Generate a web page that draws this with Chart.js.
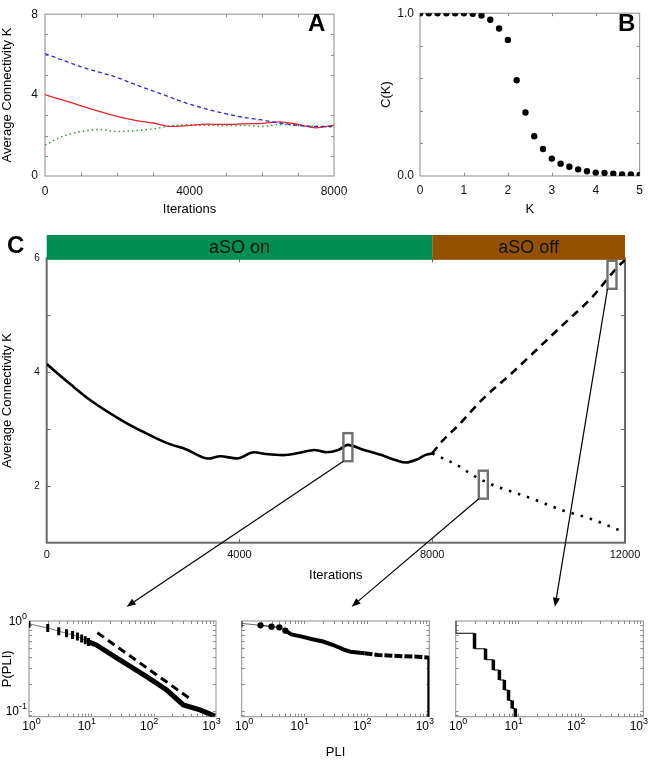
<!DOCTYPE html>
<html>
<head>
<meta charset="utf-8">
<script src="https://cdn.jsdelivr.net/npm/chart.js@4.4.1/dist/chart.umd.min.js"></script>
<style>
  html, body { margin: 0; padding: 0; background: #fff; }
  #page { position: relative; width: 650px; height: 771px; overflow: hidden; font-family: 'Liberation Sans', Arial, sans-serif; }
  #page canvas { position: absolute; }
  .tag { position: absolute; font-weight: bold; font-size: 24px; line-height: 24px; color: #000; }
</style>
</head>
<body>
<div id="page">
  <canvas id="chartA" width="379" height="218" style="left:0px;top:0px"></canvas>
  <canvas id="chartB" width="271" height="218" style="left:379px;top:0px"></canvas>
  <canvas id="chartC" width="650" height="365" style="left:0px;top:225px"></canvas>
  <canvas id="chartD1" width="240" height="171" style="left:0px;top:600px"></canvas>
  <canvas id="chartD2" width="230" height="171" style="left:222px;top:600px"></canvas>
  <canvas id="chartD3" width="214" height="171" style="left:436px;top:600px"></canvas>
  <canvas id="overlay" width="650" height="771" style="left:0px;top:0px;pointer-events:none"></canvas>
  <div class="tag" style="left:308px;top:11px">A</div>
  <div class="tag" style="left:618px;top:11px">B</div>
  <div class="tag" style="left:7px;top:233px">C</div>
</div>
<script>
// panel A: average connectivity for three starting values
const itersA = [0, 500, 1000, 1500, 2000, 2500, 3000, 3500, 4000, 4500, 5000, 5500, 6000, 6500, 7000, 7500, 8000];
const kBlue  = [6.05, 5.72, 5.4, 5.13, 4.87, 4.52, 4.2, 3.87, 3.55, 3.3, 3.08, 2.9, 2.77, 2.62, 2.5, 2.45, 2.45];
const kRed   = [4.02, 3.75, 3.47, 3.2, 2.95, 2.75, 2.62, 2.45, 2.5, 2.56, 2.55, 2.58, 2.6, 2.68, 2.55, 2.38, 2.52];
const kGreen = [1.53, 1.97, 2.2, 2.3, 2.2, 2.24, 2.33, 2.48, 2.53, 2.5, 2.49, 2.5, 2.45, 2.55, 2.5, 2.45, 2.42];

// panel B: C(K)
const kB = [0, 0.2, 0.4, 0.6, 0.8, 1.0, 1.2, 1.4, 1.6, 1.8, 2.0, 2.2, 2.4, 2.6, 2.8, 3.0, 3.2, 3.4, 3.6, 3.8, 4.0, 4.2, 4.4, 4.6, 4.8, 5.0];
const cB = [1.0, 1.0, 1.0, 1.0, 1.0, 1.0, 0.996, 0.986, 0.96, 0.906, 0.836, 0.588, 0.39, 0.244, 0.166, 0.107, 0.076, 0.057, 0.041, 0.029, 0.021, 0.018, 0.014, 0.01, 0.01, 0.006];

// panel C: aSO on, then aSO off (two continuations)
const itersOn = [0, 500, 900, 1600, 2000, 2500, 2900, 3350, 3600, 3950, 4300, 4550, 4900, 5250, 5550, 5800, 6050, 6250, 6550, 6950, 7250, 7450, 7700, 7850, 8000];
const kOn     = [4.14, 3.78, 3.51, 3.13, 2.95, 2.75, 2.64, 2.48, 2.52, 2.48, 2.59, 2.56, 2.54, 2.58, 2.63, 2.59, 2.63, 2.72, 2.64, 2.54, 2.45, 2.41, 2.47, 2.54, 2.57];
const itersUp = [8000, 8200, 8550, 9030, 9650, 10200, 10750, 11300, 11850, 12000];
const kUp     = [2.57, 2.78, 3.07, 3.51, 3.98, 4.42, 4.86, 5.30, 5.85, 5.97];
const itersDown = [8000, 8500, 8900, 9300, 9750, 10150, 10700, 11250, 12000];
const kDown     = [2.57, 2.37, 2.16, 2.0, 1.87, 1.75, 1.57, 1.43, 1.18];
const phaseStart  = [0, 8000];
const phaseEnd    = [8000, 12000];
const phaseLabels = ['aSO on', 'aSO off'];
const phaseColors = ['#008f52', '#945200'];
const boxIters = [6250, 9060, 11730];
const boxK     = [2.68, 2.02, 5.71];

// bottom panels: P(PLI)
const pliX1 = [1, 2, 3, 4, 5, 6, 7, 8, 9, 12, 29, 77, 162, 299, 554, 960];
const pliP1 = [0.93, 0.835, 0.77, 0.73, 0.70, 0.67, 0.64, 0.61, 0.585, 0.54, 0.367, 0.24, 0.17, 0.116, 0.102, 0.087];
const fitX1 = [12.5, 373];
const fitP1 = [0.74, 0.138];
const pliX2 = [1, 2, 3, 4, 5, 6.2, 9.2, 13.5, 20, 29, 43, 55, 92, 150, 313, 650, 1000, 1000];
const pliP2 = [0.94, 0.895, 0.865, 0.85, 0.78, 0.71, 0.67, 0.625, 0.59, 0.54, 0.48, 0.455, 0.436, 0.418, 0.407, 0.40, 0.39, 0.05];
const pliX3 = [1, 1, 2, 2, 3, 3, 4, 4, 5, 5, 6, 6, 7, 7, 8, 8, 9, 9];
const pliP3 = [1.0, 0.73, 0.73, 0.49, 0.49, 0.37, 0.37, 0.284, 0.284, 0.22, 0.22, 0.17, 0.17, 0.13, 0.13, 0.106, 0.106, 0.05];

const FONT = "'Liberation Sans', Arial, sans-serif";
Chart.defaults.font.family = FONT;
Chart.defaults.color = '#000';
Chart.defaults.animation = false;
Chart.defaults.plugins.legend.display = false;
Chart.defaults.plugins.tooltip.enabled = false;
Chart.defaults.elements.point.radius = 0;

function pts(xs, ys) {
    return xs.map((x, i) => ({ x: x, y: ys[i] }));
}

function fixedTicks(values) {
    return s => { s.ticks = values.map(v => ({ value: v })); };
}

const plain = v => String(v);

// box around plot area with short inner tick marks
const framePlugin = {
    id: 'frame',
    beforeDatasetsDraw(chart, args, o) {
        if (!o || !o.color) return;
        const ctx = chart.ctx, a = chart.chartArea;
        ctx.save();
        ctx.strokeStyle = o.color;
        ctx.lineWidth = o.width;
        ctx.strokeRect(a.left, a.top, a.right - a.left, a.bottom - a.top);
        ctx.lineWidth = 1;
        ctx.beginPath();
        (o.xTicks || []).forEach(v => {
            const px = Math.round(chart.scales.x.getPixelForValue(v)) + 0.5;
            ctx.moveTo(px, a.top); ctx.lineTo(px, a.top + o.len);
            ctx.moveTo(px, a.bottom); ctx.lineTo(px, a.bottom - o.len);
        });
        (o.yTicks || []).forEach(v => {
            const py = Math.round(chart.scales.y.getPixelForValue(v)) + 0.5;
            ctx.moveTo(a.left, py); ctx.lineTo(a.left + o.len, py);
            ctx.moveTo(a.right, py); ctx.lineTo(a.right - o.len, py);
        });
        ctx.stroke();
        ctx.restore();
    }
};

function drawPow(ctx, x, y, exp, align) {
    ctx.font = '12px ' + FONT;
    const wb = ctx.measureText('10').width;
    ctx.font = '9px ' + FONT;
    const we = ctx.measureText(exp).width;
    let x0 = x - wb / 2;
    if (align === 'right') x0 = x - wb - we;
    if (align === 'shift') x0 = x - wb / 2 - 7;
    ctx.textAlign = 'left';
    ctx.textBaseline = 'middle';
    ctx.fillStyle = '#000';
    ctx.font = '12px ' + FONT;
    ctx.fillText('10', x0, y);
    ctx.font = '9px ' + FONT;
    ctx.fillText(exp, x0 + wb, y - 5);
}

// 10^n labels for the log axes
const powLabels = {
    id: 'powLabels',
    afterDraw(chart, args, o) {
        if (!o || !o.x) return;
        const ctx = chart.ctx, a = chart.chartArea;
        ctx.save();
        o.x.forEach(v => drawPow(ctx, chart.scales.x.getPixelForValue(v), a.bottom + 10, String(Math.round(Math.log10(v))), v === 1 ? 'center' : 'shift'));
        (o.y || []).forEach(v => drawPow(ctx, a.left - 2, chart.scales.y.getPixelForValue(v) + 1, String(Math.round(Math.log10(v))), 'right'));
        ctx.restore();
    }
};

// coloured aSO on / off strip above panel C
const phaseBar = {
    id: 'phaseBar',
    afterDraw(chart, args, o) {
        if (!o || !o.starts) return;
        const ctx = chart.ctx, a = chart.chartArea, x = chart.scales.x;
        ctx.save();
        o.starts.forEach((s, i) => {
            const x0 = x.getPixelForValue(s), x1 = x.getPixelForValue(o.ends[i]);
            ctx.fillStyle = o.colors[i];
            ctx.fillRect(x0, a.top - o.height, x1 - x0, o.height + 1.5);
            ctx.fillStyle = '#111';
            ctx.font = '18px ' + FONT;
            ctx.textAlign = 'center';
            ctx.textBaseline = 'middle';
            ctx.fillText(o.labels[i], (x0 + x1) / 2, a.top - o.height / 2 + 1);
        });
        ctx.restore();
    }
};

// grey boxes marking the sampled points
const zoomBoxes = {
    id: 'zoomBoxes',
    afterDatasetsDraw(chart, args, o) {
        if (!o || !o.xs) return;
        const ctx = chart.ctx;
        ctx.save();
        ctx.strokeStyle = '#707070';
        ctx.lineWidth = 2.4;
        o.xs.forEach((v, i) => {
            const cx = chart.scales.x.getPixelForValue(v), cy = chart.scales.y.getPixelForValue(o.ys[i]);
            ctx.strokeRect(cx - o.w / 2, cy - o.h / 2, o.w, o.h);
        });
        ctx.restore();
    }
};

Chart.register(framePlugin, powLabels, phaseBar, zoomBoxes);

const noGrid = { display: false, drawTicks: false };
const noBorder = { display: false };

// ---- panel A
new Chart(document.getElementById('chartA'), {
    type: 'line',
    data: {
        datasets: [
            { data: pts(itersA, kBlue), borderColor: '#2a2ad2', borderWidth: 1.3, borderDash: [4, 3], cubicInterpolationMode: 'monotone' },
            { data: pts(itersA, kRed), borderColor: '#e5262b', borderWidth: 1.3, cubicInterpolationMode: 'monotone' },
            { data: pts(itersA, kGreen), borderColor: '#2f9a35', borderWidth: 1.5, borderDash: [1.5, 3], cubicInterpolationMode: 'monotone' }
        ]
    },
    options: {
        responsive: false,
        layout: { padding: { top: 5, right: 45, left: 0, bottom: 0 } },
        scales: {
            x: {
                type: 'linear', min: 0, max: 8000, grid: noGrid, border: noBorder,
                afterBuildTicks: fixedTicks([0, 4000, 8000]),
                ticks: { padding: 8, font: { size: 12 }, maxRotation: 0, color: '#111', callback: plain },
                title: { display: true, text: 'Iterations', font: { size: 13 }, padding: { top: 0, bottom: 1 } },
                afterFit: s => { s.height = 42; }
            },
            y: {
                min: 0, max: 8, grid: noGrid, border: noBorder,
                afterBuildTicks: fixedTicks([0, 4, 8]),
                ticks: { padding: 7, font: { size: 12 }, color: '#111', callback: plain },
                title: { display: true, text: 'Average Connectivity K', font: { size: 13 }, padding: { top: 0, bottom: 0 } },
                afterFit: s => { s.width = 45; }
            }
        },
        plugins: { frame: { color: '#8c8c8c', width: 1, len: 3, xTicks: [1000, 2000, 3000, 5000, 6000, 7000], yTicks: [1, 2, 3, 5, 6, 7] } }
    }
});

// ---- panel B
new Chart(document.getElementById('chartB'), {
    type: 'line',
    data: {
        datasets: [{
            data: pts(kB, cB), showLine: false, pointRadius: 3.2,
            pointBackgroundColor: '#000', pointBorderWidth: 0
        }]
    },
    options: {
        responsive: false,
        layout: { padding: { top: 5, right: 8, left: 0, bottom: 0 } },
        scales: {
            x: {
                type: 'linear', min: 0, max: 5, grid: noGrid, border: noBorder,
                afterBuildTicks: fixedTicks([0, 1, 2, 3, 4, 5]),
                ticks: { padding: 7, font: { size: 12 }, maxRotation: 0, color: '#111', callback: plain },
                title: { display: true, text: 'K', font: { size: 13 }, padding: { top: 0, bottom: 1 } },
                afterFit: s => { s.height = 42; }
            },
            y: {
                min: 0, max: 1, grid: noGrid, border: noBorder,
                afterBuildTicks: fixedTicks([0, 1]),
                ticks: { padding: 6, font: { size: 12 }, color: '#111', callback: v => v.toFixed(1) },
                title: { display: true, text: 'C(K)', font: { size: 13 }, padding: { top: 0, bottom: 0 } },
                afterFit: s => { s.width = 41; }
            }
        },
        plugins: { frame: { color: '#8c8c8c', width: 1, len: 3, xTicks: [1, 2, 3, 4], yTicks: [0.2, 0.4, 0.6, 0.8] } }
    }
});

// ---- panel C
const chartC = new Chart(document.getElementById('chartC'), {
    type: 'line',
    data: {
        datasets: [
            { data: pts(itersOn, kOn), borderColor: '#000', borderWidth: 2.6, cubicInterpolationMode: 'monotone' },
            { data: pts(itersUp, kUp), borderColor: '#000', borderWidth: 2.6, borderDash: [8, 6], cubicInterpolationMode: 'monotone' },
            { data: pts(itersDown, kDown), borderColor: '#000', borderWidth: 2.6, borderDash: [2.5, 7], cubicInterpolationMode: 'monotone' }
        ]
    },
    options: {
        responsive: false,
        layout: { padding: { top: 33.3, right: 25, left: 0, bottom: 0 } },
        scales: {
            x: {
                type: 'linear', min: 0, max: 12000, grid: noGrid, border: noBorder,
                afterBuildTicks: fixedTicks([0, 4000, 8000, 12000]),
                ticks: { padding: 6, font: { size: 11 }, maxRotation: 0, color: '#111', callback: plain },
                title: { display: true, text: 'Iterations', font: { size: 13 }, padding: { top: 0, bottom: 6.5 } },
                afterFit: s => { s.height = 47.3; }
            },
            y: {
                min: 1, max: 6, grid: noGrid, border: noBorder,
                afterBuildTicks: fixedTicks([2, 4, 6]),
                ticks: { padding: 7, font: { size: 10 }, color: '#111', callback: plain },
                title: { display: true, text: 'Average Connectivity K', font: { size: 13 }, padding: { top: 0, bottom: 0 } },
                afterFit: s => { s.width = 46.7; }
            }
        },
        plugins: {
            frame: { color: '#6b6b6b', width: 2, len: 4, xTicks: [4000, 8000], yTicks: [2, 3, 4, 5] },
            phaseBar: { starts: phaseStart, ends: phaseEnd, labels: phaseLabels, colors: phaseColors, height: 23.3 },
            zoomBoxes: { xs: boxIters, ys: boxK, w: 9, h: 28 }
        }
    }
});

// ---- bottom panels
const logMinorX = [];
[1, 10, 100].forEach(d => { for (let m = 2; m <= 9; m++) logMinorX.push(m * d); });
const logMinorY = [0.09, 0.1, 0.2, 0.3, 0.4, 0.5, 0.6, 0.7, 0.8, 0.9];

function smallPanel(id, datasets, leftW, rightPad, showY, xTitle) {
    return new Chart(document.getElementById(id), {
        type: 'line',
        data: { datasets: datasets },
        options: {
            responsive: false,
            layout: { padding: { top: 21, right: rightPad, left: 0, bottom: 0 } },
            scales: {
                x: {
                    type: 'logarithmic', min: 1, max: 1000, grid: noGrid, border: noBorder,
                    ticks: { display: false },
                    title: { display: !!xTitle, text: xTitle || '', font: { size: 13 }, padding: { top: 0, bottom: 11 } },
                    afterFit: s => { s.height = 54.3; }
                },
                y: {
                    type: 'logarithmic', min: 0.0857, max: 1, grid: noGrid, border: noBorder,
                    ticks: { display: false },
                    title: { display: showY, text: 'P(PLI)', font: { size: 13 }, padding: { top: 0, bottom: 0 } },
                    afterFit: s => { s.width = leftW; }
                }
            },
            plugins: {
                frame: { color: '#8c8c8c', width: 1, len: 3, xTicks: logMinorX.concat([10, 100]), yTicks: logMinorY },
                powLabels: { x: [1, 10, 100, 1000], y: showY ? [1, 0.1] : [] }
            }
        }
    });
}

const chartD1 = smallPanel('chartD1', [
    {
        data: pts(pliX1, pliP1), borderColor: '#000',
        pointStyle: 'line', rotation: 90, pointRadius: c => (c.raw && c.raw.x <= 9 ? 4 : 0),
        pointBorderWidth: 3, pointBorderColor: '#000',
        segment: {
            borderWidth: c => (c.p0.parsed.x >= 9 ? 5 : 1),
            borderColor: c => (c.p0.parsed.x >= 9 ? '#000' : '#777')
        }
    },
    { data: pts(fitX1, fitP1), borderColor: '#000', borderWidth: 3, borderDash: [8, 5] }
], 29, 24, true, '');

const chartD2 = smallPanel('chartD2', [
    {
        data: pts(pliX2, pliP2), borderColor: '#000',
        pointStyle: c => (c.raw && c.raw.x === 1 ? 'line' : 'circle'), rotation: 90,
        pointRadius: c => (c.raw && c.raw.x === 1 ? 4 : (c.raw && c.raw.x <= 5 ? 2.4 : 0)),
        pointBackgroundColor: '#000', pointBorderColor: '#000', pointBorderWidth: 1.5,
        borderCapStyle: 'butt',
        segment: {
            borderWidth: c => (c.p0.parsed.x < 5 ? 1 : 4),
            borderColor: c => (c.p0.parsed.x < 2 ? '#666' : '#000'),
            borderDash: c => (c.p0.parsed.x >= 90 && c.p1.parsed.x > c.p0.parsed.x ? [8, 2] : [])
        }
    }
], 19.7, 22.7, false, 'PLI');

const chartD3 = smallPanel('chartD3', [
    {
        data: pts(pliX3, pliP3), borderColor: '#000', borderCapStyle: 'butt',
        segment: {
            borderWidth: c => (c.p0.parsed.x === c.p1.parsed.x ? (c.p0.parsed.x === 1 ? 1.5 : 3.5) : 1)
        }
    }
], 19.7, 6.7, false, '');

// ---- arrows from the grey boxes to the bottom panels
const overlay = document.getElementById('overlay').getContext('2d');
const targets = [chartD1, chartD2, chartD3];
const arrowFrac = [0.522, 0.586, 0.529];

function drawArrow(ctx, x0, y0, x1, y1) {
    const ang = Math.atan2(y1 - y0, x1 - x0);
    const hl = 9, hw = 3.5;
    const bx = x1 - hl * Math.cos(ang), by = y1 - hl * Math.sin(ang);
    ctx.beginPath();
    ctx.moveTo(x0, y0);
    ctx.lineTo(bx, by);
    ctx.stroke();
    ctx.beginPath();
    ctx.moveTo(x1, y1);
    ctx.lineTo(bx + hw * Math.sin(ang), by - hw * Math.cos(ang));
    ctx.lineTo(bx - hw * Math.sin(ang), by + hw * Math.cos(ang));
    ctx.closePath();
    ctx.fill();
}

overlay.strokeStyle = '#000';
overlay.fillStyle = '#000';
overlay.lineWidth = 1.2;
const cCanvas = chartC.canvas;
boxIters.forEach((it, i) => {
    const sx = cCanvas.offsetLeft + chartC.scales.x.getPixelForValue(it) - 4.5;
    const sy = cCanvas.offsetTop + chartC.scales.y.getPixelForValue(boxK[i]) + 14;
    const t = targets[i], a = t.chartArea;
    const tx = t.canvas.offsetLeft + a.left + arrowFrac[i] * (a.right - a.left);
    const ty = t.canvas.offsetTop + a.top - 14.3;
    drawArrow(overlay, sx, sy, tx, ty);
});
</script>
</body>
</html>
